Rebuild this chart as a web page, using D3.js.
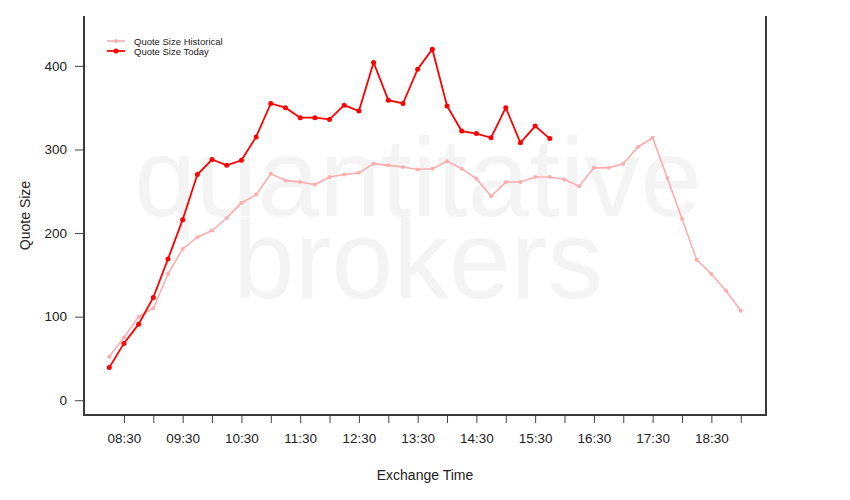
<!DOCTYPE html>
<html>
<head>
<meta charset="utf-8">
<script src="https://cdn.jsdelivr.net/npm/d3@7"></script>
<style>
  html, body { margin: 0; padding: 0; background: #fff; }
  svg { display: block; font-family: "Liberation Sans", Arial, Helvetica, sans-serif; }
</style>
</head>
<body>
<svg id="chart" width="850" height="500"></svg>
<script>
// ---- data ----
const histTimes = ["08:15","08:30","08:45","09:00","09:15","09:30","09:45","10:00","10:15","10:30","10:45",
  "11:00","11:15","11:30","11:45","12:00","12:15","12:30","12:45","13:00","13:15","13:30","13:45",
  "14:00","14:15","14:30","14:45","15:00","15:15","15:30","15:45","16:00","16:15","16:30","16:45",
  "17:00","17:15","17:30","17:45","18:00","18:15","18:30","18:45","19:00"];
const histValues = [52,75,100,110,151,181,195,203,218,236,246,
  271,263,261,258,267,270,272,283,281,279,276,277,
  286,277,265,244,261,261,267,267,264,256,278,278,
  283,303,314,266,217,168,151,131,107];
const todayTimes = histTimes.slice(0, 31);
const todayValues = [39,68,91,123,169,216,270,288,281,287,315,
  355,350,338,338,336,353,346,404,359,355,396,420,
  352,322,319,314,350,308,328,313];
const tickTimes = ["08:30","09:00","09:30","10:00","10:30","11:00","11:30","12:00","12:30","13:00","13:30",
  "14:00","14:30","15:00","15:30","16:00","16:30","17:00","17:30","18:00","18:30","19:00"];
const tickLabels = ["08:30","09:30","10:30","11:30","12:30","13:30","14:30","15:30","16:30","17:30","18:30"];
const yTicks = [0,100,200,300,400];
const yLimit = [0, 442];
const seriesNames = ["Quote Size Historical","Quote Size Today"];
const seriesColors = ["#ffacac","#ff0000"];

// ---- helpers ----
const toMin = s => { const [h,m] = s.split(":").map(Number); return h*60+m; };
const fmt = m => String(Math.floor(m/60)).padStart(2,"0")+":"+String(m%60).padStart(2,"0");

const svg = d3.select("#chart");
const plot = {left: 84, right: 766, top: 16, bottom: 415};

const allMins = histTimes.map(toMin);
const xmin = d3.min(allMins), xmax = d3.max(allMins);
const xpad = (xmax - xmin) * 0.04;
const x = d3.scaleLinear().domain([xmin - xpad, xmax + xpad]).range([plot.left, plot.right]);
const ypad = (yLimit[1] - yLimit[0]) * 0.04;
const y = d3.scaleLinear().domain([yLimit[0] - ypad, yLimit[1] + ypad]).range([plot.bottom, plot.top]);

// watermark
const cx = (plot.left + plot.right) / 2 - 7;
svg.append("text").attr("x", cx).attr("y", 216).attr("text-anchor","middle")
  .attr("font-size", 111).attr("fill", "#f4f4f4").text("quantitative");
svg.append("text").attr("x", cx).attr("y", 298).attr("text-anchor","middle")
  .attr("font-size", 111).attr("fill", "#f4f4f4").text("brokers");

// axes
const xAxis = d3.axisBottom(x)
  .tickValues(tickTimes.map(toMin))
  .tickSize(8).tickPadding(10)
  .tickFormat(m => tickLabels.includes(fmt(m)) ? fmt(m) : "");
const gx = svg.append("g").attr("transform", `translate(0,${plot.bottom})`).call(xAxis);
gx.select(".domain").remove();
gx.selectAll(".tick line").attr("stroke", "#444").attr("stroke-width", 1);
gx.selectAll(".tick text").attr("font-size", 13.5).attr("fill", "#222").attr("font-family", "Liberation Sans, Arial, sans-serif");

const yAxis = d3.axisLeft(y).tickValues(yTicks).tickSize(9).tickPadding(8).tickFormat(d3.format("d"));
const gy = svg.append("g").attr("transform", `translate(${plot.left},0)`).call(yAxis);
gy.select(".domain").remove();
gy.selectAll(".tick line").attr("stroke", "#444").attr("stroke-width", 1);
gy.selectAll(".tick text").attr("font-size", 13.5).attr("fill", "#222").attr("font-family", "Liberation Sans, Arial, sans-serif");

// box (left, bottom, right)
svg.append("path")
  .attr("d", `M${plot.left},${plot.top}V${plot.bottom}H${plot.right}V${plot.top}`)
  .attr("fill", "none").attr("stroke", "#3a3a3a").attr("stroke-width", 2);

// axis titles
svg.append("text").attr("x", (plot.left+plot.right)/2).attr("y", 480).attr("text-anchor","middle")
  .attr("font-size", 14).attr("fill", "#222").text("Exchange Time");
svg.append("text").attr("transform", `translate(30,${(plot.top+plot.bottom)/2}) rotate(-90)`)
  .attr("text-anchor","middle").attr("font-size", 14).attr("fill", "#222").text("Quote Size");

// series
const line = d3.line().x(d => x(d.t)).y(d => y(d.v));
const hist = histTimes.map((t,i) => ({t: toMin(t), v: histValues[i]}));
const today = todayTimes.map((t,i) => ({t: toMin(t), v: todayValues[i]}));

svg.append("path").datum(hist).attr("d", line).attr("fill","none")
  .attr("stroke", seriesColors[0]).attr("stroke-width", 1.6);
svg.selectAll("circle.h").data(hist).enter().append("circle").attr("class","h")
  .attr("cx", d => x(d.t)).attr("cy", d => y(d.v)).attr("r", 2).attr("fill", seriesColors[0]);

svg.append("path").datum(today).attr("d", line).attr("fill","none")
  .attr("stroke", seriesColors[1]).attr("stroke-width", 1.8);
svg.selectAll("circle.t").data(today).enter().append("circle").attr("class","t")
  .attr("cx", d => x(d.t)).attr("cy", d => y(d.v)).attr("r", 2.5).attr("fill", seriesColors[1]);

// legend
const legY = [41, 51];
seriesNames.forEach((name, i) => {
  const g = svg.append("g");
  g.append("line").attr("x1", 107).attr("x2", 125).attr("y1", legY[i]).attr("y2", legY[i])
    .attr("stroke", seriesColors[i]).attr("stroke-width", i ? 1.8 : 1.6);
  g.append("circle").attr("cx", 116).attr("cy", legY[i]).attr("r", i ? 2.5 : 2).attr("fill", seriesColors[i]);
  g.append("text").attr("x", 134).attr("y", legY[i] + 3.5).attr("font-size", 9.5)
    .attr("fill", "#222").text(name);
});
</script>
</body>
</html>
